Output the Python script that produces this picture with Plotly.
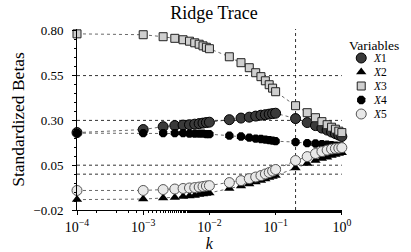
import plotly.graph_objects as go

k = [0.0001, 0.001, 0.002, 0.003, 0.004, 0.005, 0.006, 0.007, 0.008, 0.009,
     0.01, 0.02, 0.03, 0.04, 0.05, 0.06, 0.07, 0.08, 0.09, 0.1,
     0.2, 0.3, 0.4, 0.5, 0.6, 0.7, 0.8, 0.9, 1.0]

x1 = [0.232, 0.249, 0.265, 0.271, 0.274, 0.276, 0.279, 0.282, 0.285, 0.288,
      0.290, 0.304, 0.313, 0.318, 0.324, 0.329, 0.332, 0.335, 0.338, 0.340,
      0.310, 0.288, 0.271, 0.257, 0.246, 0.235, 0.226, 0.218, 0.210]
x2 = [-0.142, -0.139, -0.133, -0.130, -0.125, -0.122, -0.119, -0.114, -0.111, -0.108,
      -0.105, -0.080, -0.066, -0.055, -0.044, -0.036, -0.027, -0.019, -0.013, -0.008,
      0.034, 0.059, 0.076, 0.087, 0.095, 0.104, 0.109, 0.115, 0.120]
x3 = [0.783, 0.778, 0.767, 0.758, 0.750, 0.742, 0.733, 0.725, 0.716, 0.708,
      0.700, 0.655, 0.622, 0.594, 0.566, 0.544, 0.521, 0.499, 0.480, 0.460,
      0.382, 0.343, 0.315, 0.293, 0.276, 0.262, 0.251, 0.240, 0.232]
x4 = [0.229, 0.229, 0.229, 0.229, 0.229, 0.226, 0.226, 0.226, 0.226, 0.223,
      0.223, 0.215, 0.210, 0.204, 0.198, 0.196, 0.193, 0.190, 0.187, 0.184,
      0.179, 0.173, 0.171, 0.168, 0.165, 0.162, 0.159, 0.157, 0.154]
x5 = [-0.091, -0.091, -0.086, -0.083, -0.080, -0.077, -0.075, -0.072, -0.069, -0.066,
      -0.064, -0.047, -0.036, -0.025, -0.016, -0.008, 0.001, 0.009, 0.017, 0.026,
      0.076, 0.098, 0.115, 0.126, 0.134, 0.140, 0.143, 0.145, 0.148]

names = ["<i>X</i>1", "<i>X</i>2", "<i>X</i>3", "<i>X</i>4", "<i>X</i>5"]
series = [x1, x2, x3, x4, x5]

yticks = [-0.2, 0.05, 0.30, 0.55, 0.80]
ytick_text = ["\u22120.02", "0.05", "0.30", "0.55", "0.80"]
xticks = [0.0001, 0.001, 0.01, 0.1, 1]
xtick_text = ["10<sup>\u22124</sup>", "10<sup>\u22123</sup>", "10<sup>\u22122</sup>",
              "10<sup>\u22121</sup>", "10<sup>0</sup>"]
ref_y = [0.0, 0.05, 0.30, 0.55]
ref_k = 0.2

styles = [
    dict(symbol="circle", size=10, color="#3a3a3a", line=dict(color="#000", width=1)),
    dict(symbol="triangle-up", size=9, color="#000", line=dict(color="#000", width=0)),
    dict(symbol="square", size=8, color="#cfcfcf", line=dict(color="#222", width=1)),
    dict(symbol="octagon", size=9, color="#000", line=dict(color="#000", width=0)),
    dict(symbol="circle", size=10, color="#e8e8e8", line=dict(color="#555", width=1)),
]

FONT = "Liberation Serif"
W, H = 411, 252
ML, MR, MT, MB = 77, 0, 29, 42
PW = W - ML - MR
PH = H - MT - MB
main_end = 273 / PW

fig = go.Figure()
for name, ys, st in zip(names, series, styles):
    fig.add_trace(go.Scatter(
        x=k, y=ys, name=name, mode="lines+markers", showlegend=False,
        line=dict(color="#444", width=0.8, dash="dot"),
        marker=st, cliponaxis=False,
    ))

# legend samples drawn on a small auxiliary axis pair
for name, st in zip(names, styles):
    fig.add_trace(go.Scatter(
        x=[0], y=[name], mode="markers", marker=st, showlegend=False,
        xaxis="x2", yaxis="y2", cliponaxis=False, hoverinfo="skip",
    ))

for yv in ref_y:
    fig.add_shape(type="line", xref="x domain", x0=0, x1=1, yref="y", y0=yv, y1=yv,
                  line=dict(color="#333", width=1, dash="dot"), layer="below")
fig.add_shape(type="line", xref="x", x0=ref_k, x1=ref_k, yref="y domain", y0=0, y1=1,
              line=dict(color="#333", width=1, dash="dot"), layer="below")

fig.add_annotation(text="Variables", xref="paper", yref="paper",
                   x=(355 - ML) / PW, xanchor="left", y=(H - MB - 45) / PH, yanchor="middle",
                   showarrow=False, font=dict(size=13.5))

fig.update_layout(
    width=W, height=H,
    margin=dict(l=ML, r=MR, t=MT, b=MB),
    paper_bgcolor="white", plot_bgcolor="white",
    font=dict(family=FONT, size=12, color="#000"),
    title=dict(text="Ridge Trace", x=214 / W, xanchor="center",
               y=1 - 13 / H, yanchor="middle", font=dict(size=18)),
    showlegend=False,
    xaxis2=dict(domain=[(364 - ML) / PW, (376 - ML) / PW], range=[-1, 1],
                anchor="y2", visible=False),
    yaxis2=dict(domain=[(H - MB - 121) / PH, (H - MB - 51) / PH], anchor="x2",
                type="category", range=[4.5, -0.5], side="right",
                tickmode="array", tickvals=names, ticktext=names,
                showline=False, showgrid=False, zeroline=False, ticks="",
                tickfont=dict(size=11.5), ticklabelstandoff=6),
)
fig.update_layout(xaxis=dict(
    domain=[0, main_end],
    type="log", range=[-4, 0], tickvals=xticks, ticktext=xtick_text,
    showgrid=False, zeroline=False, showline=True, linecolor="#000", linewidth=1,
    ticks="outside", ticklen=4, tickcolor="#000", mirror=False,
    minor=dict(ticks="outside", ticklen=2, tickcolor="#000", showgrid=False),
    title=dict(text="<i>k</i>", font=dict(size=16), standoff=2),
    tickfont=dict(size=14),
))
fig.update_layout(yaxis=dict(
    range=[-0.2, 0.81], tickvals=yticks, ticktext=ytick_text,
    showgrid=False, zeroline=False, showline=True, linecolor="#000", linewidth=1,
    ticks="outside", ticklen=4, tickcolor="#000", mirror=False,
    minor=dict(ticks="outside", ticklen=2, dtick=0.05, tickcolor="#000", showgrid=False),
    title=dict(text="Standardized Betas", font=dict(size=17.5), standoff=4),
    tickfont=dict(size=13), ticklabelstandoff=6,
))
fig.write_html("out.html", config={"displayModeBar": False},
               post_script="document.body.style.margin='0';document.body.style.overflow='hidden';")
